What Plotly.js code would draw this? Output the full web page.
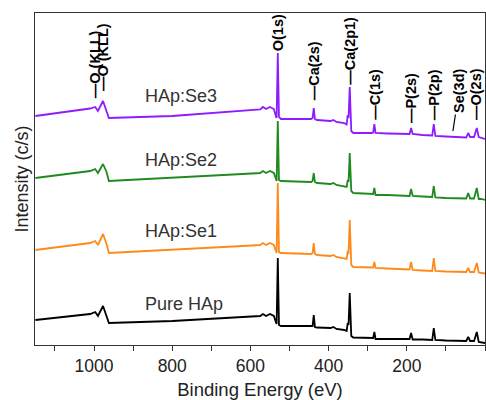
<!DOCTYPE html>
<html>
<head>
<meta charset="utf-8">
<script src="https://cdn.plot.ly/plotly-3.0.1.min.js"></script>
<style>
  html, body { margin: 0; padding: 0; background: #fff; }
  #chart { width: 486px; height: 400px; }
</style>
</head>
<body>
<div id="chart"></div>
<script>
// XPS survey spectra of pure and Se-doped hydroxyapatite, stacked with offsets.
// Binding-energy grid shared by all four spectra (eV)
const bindingEnergy = [1150, 1010, 997, 990, 977, 968, 962, 800, 620, 575,
  568, 560, 550, 540, 535, 533, 530, 527, 522, 445,
  441, 438, 435, 430, 395, 388, 380, 360, 354, 351,
  349, 346, 342, 337, 290, 286, 283, 280, 250, 193,
  189, 185, 160, 135, 131, 127, 100, 48, 43, 38,
  28, 21, 16, 10, 0];

// Stacked intensities (arbitrary units, offset applied)
const pureHAp = [25, 31, 33, 29, 39, 30, 22, 24, 28, 29,
  31, 29, 31, 29, 23, 21, 87, 20, 19, 18.5,
  19, 30, 18, 17.5, 17, 18, 16, 15, 14, 22,
  20, 52, 9, 7.5, 7, 7, 13, 6, 6, 6,
  12, 5.5, 5.5, 5, 17, 5, 4.5, 4, 8, 4,
  4, 13, 3, 2.5, 2];

const hapSe1 = [95, 102, 104, 100, 111, 101, 92, 95, 99, 100,
  102, 100, 102, 100, 94, 92, 162, 93, 92, 91,
  92, 102, 91, 90, 89, 90, 88, 87, 86, 94,
  91, 125, 80, 78, 77.5, 77.5, 83, 77, 76.5, 75.5,
  83, 75, 74.5, 74, 87, 74, 73.5, 73, 77, 73,
  73, 82, 72.5, 72, 71.5];

const hapSe2 = [167, 174, 176, 172, 181, 173, 164, 167, 171, 172,
  174, 172, 174, 172, 166, 164, 224, 165, 164, 163,
  164, 172, 163, 162, 161, 162, 160, 159, 158, 165,
  163, 192, 154, 152, 151, 151, 157, 150, 150, 149,
  156, 149, 148.5, 148, 159, 147.5, 147, 146.5, 152, 146.5,
  146.5, 157, 146, 146, 145];

const hapSe3 = [229, 236.5, 238, 234, 244, 235, 227, 229, 234, 235.5,
  238, 236, 238, 236, 229, 227, 292, 228, 226, 226,
  227, 237, 226, 225, 224, 225, 223, 222, 220.5, 230,
  227, 258, 214, 212, 212, 212.5, 221, 212, 211.5, 211,
  217, 211, 210, 209.5, 221, 209, 208.5, 207.5, 212, 208,
  208, 217, 208, 207, 206];

const sampleNames = ['Pure HAp', 'HAp:Se1', 'HAp:Se2', 'HAp:Se3'];
const sampleSeries = [pureHAp, hapSe1, hapSe2, hapSe3];
const sampleColors = ['#000000', '#ff8a1c', '#1f8a1f', '#8f1cff'];

// Peak assignments and the binding energy each label stands over (eV)
const peakNames = ['O (KLL)', 'O (KLL)', 'O(1s)', 'Ca(2s)', 'Ca(2p1)', 'C(1s)', 'P(2s)', 'P(2p)', 'Se(3d)', 'O(2s)'];
const peakEnergies = [997, 977, 530, 438, 346, 283, 189, 131, 82, 23];

const FONT = 'Arial, "Liberation Sans", sans-serif';

const traces = sampleSeries.map((ys, i) => ({
  type: 'scatter',
  mode: 'lines',
  name: sampleNames[i],
  x: bindingEnergy,
  y: ys,
  line: { color: sampleColors[i], width: 1.8 },
  hoverinfo: 'x+y+name'
}));

// label layout: vertical level of the bottom of each peak label, and whether it has a leader dash
const peakLabelBase = [245, 252, 292, 243, 258, 223, 220, 223, null, 223];
const peakHasDash = [true, true, false, true, true, true, true, true, false, true];
const peakFont = { family: FONT, size: 14.5, color: '#000', weight: 'bold' };

const annotations = [];
peakNames.forEach((name, i) => {
  if (name === 'Se(3d)') {
    annotations.push({
      x: peakEnergies[i], y: 214, xref: 'x', yref: 'y',
      text: name, textangle: -90,
      showarrow: true, arrowhead: 0, arrowwidth: 1.2, arrowcolor: '#000',
      ax: 6, ay: -40, standoff: 0,
      font: peakFont
    });
    return;
  }
  annotations.push({
    x: peakEnergies[i], y: peakLabelBase[i], xref: 'x', yref: 'y',
    text: (peakHasDash[i] ? '\u2014' : '') + name,
    textangle: -90, showarrow: false,
    xanchor: 'center', yanchor: 'bottom',
    font: peakFont
  });
});

// sample names placed beside their spectra
const sampleLabelY = [41.5, 114.5, 185.5, 249.5];
sampleNames.forEach((name, i) => {
  annotations.push({
    x: 876, y: sampleLabelY[i], xref: 'x', yref: 'y',
    text: name, showarrow: false,
    xanchor: 'left', yanchor: 'middle',
    font: { family: FONT, size: 18, color: '#333' }
  });
});

const layout = {
  width: 486,
  height: 400,
  margin: { l: 35, r: 1, t: 13, b: 55 },
  paper_bgcolor: '#ffffff',
  plot_bgcolor: '#ffffff',
  showlegend: false,
  font: { family: FONT, color: '#222' },
  xaxis: {
    range: [1151, 0],
    tick0: 0,
    dtick: 200,
    ticks: 'outside',
    ticklen: 5,
    tickwidth: 1,
    tickcolor: '#333',
    minor: { dtick: 100, ticks: 'outside', ticklen: 5, tickwidth: 1, tickcolor: '#333', showgrid: false },
    showgrid: false,
    zeroline: false,
    showline: true,
    linecolor: '#333',
    linewidth: 1.2,
    mirror: true,
    tickfont: { family: FONT, size: 17.5, color: '#222' },
    title: { text: 'Binding Energy (eV)', font: { family: FONT, size: 18.5, color: '#222' }, standoff: 7 }
  },
  yaxis: {
    range: [0, 332],
    showticklabels: false,
    ticks: '',
    showgrid: false,
    zeroline: false,
    showline: true,
    linecolor: '#333',
    linewidth: 1.2,
    mirror: true,
    title: { text: 'Intensity (c/s)', font: { family: FONT, size: 18, color: '#222' }, standoff: 0 }
  },
  annotations: annotations
};

Plotly.newPlot('chart', traces, layout, { displayModeBar: false, staticPlot: true });
</script>
</body>
</html>
